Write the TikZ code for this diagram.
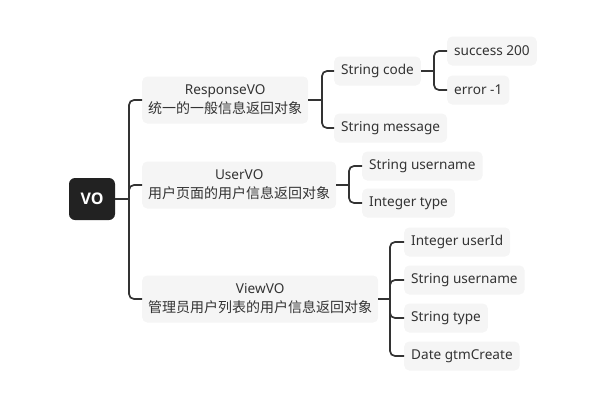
\documentclass[tikz,border=0pt]{standalone}
\usepackage{fontspec}
\setmainfont{Noto Sans}
\newfontfamily\cjk{Noto Sans CJK SC}
\newfontfamily\rootfont{Open Sans}
\usetikzlibrary{calc}
\definecolor{mybg}{RGB}{245,245,245}
\definecolor{mydark}{RGB}{34,34,34}
\definecolor{myline}{RGB}{51,51,51}
\tikzset{
  leaf/.style = {fill = mybg, rounded corners = 5pt, text = myline, font = \fontsize{13.6}{19}\selectfont, inner xsep = 7pt, minimum height = 29pt, anchor = west},
  mid/.style = {leaf, align = center, minimum height = 47pt, inner xsep = 6pt},
  root/.style = {fill = mydark, rounded corners = 6pt, text = white, font = \rootfont\fontsize{16}{19}\selectfont\bfseries, minimum width = 46pt, minimum height = 42pt},
  link/.style = {draw = myline, line width = 1.7pt, rounded corners = 5pt}
}
\newcommand{\zh}[1]{{\cjk\fontsize{14}{19}\selectfont #1}}
\begin{document}
\begin{tikzpicture}[x = 1pt, y = -1pt]
\useasboundingbox (0,0) rectangle (603,410);
\node[root] (vo) at (92,199) {VO};
\node[mid] (resp) at (142,100) {ResponseVO\\\zh{统一的一般信息返回对象}};
\node[mid] (user) at (142,185) {UserVO\\\zh{用户页面的用户信息返回对象}};
\node[mid] (view) at (142,299) {ViewVO\\\zh{管理员用户列表的用户信息返回对象}};
\node[leaf] (code) at (334,71) {String code};
\node[leaf] (msg) at (334,128) {String message};
\node[leaf] (succ) at (447,51) {success 200};
\node[leaf] (err) at (447,90) {error -1};
\node[leaf] (uname) at (362,166) {String username};
\node[leaf] (utype) at (362,203) {Integer type};
\node[leaf] (vid) at (404,242) {Integer userId};
\node[leaf] (vname) at (404,280) {String username};
\node[leaf] (vtype) at (404,318) {String type};
\node[leaf] (vdate) at (404,356) {Date gtmCreate};
\coordinate (j0) at (129,199);
\coordinate (j1) at (322,100);
\coordinate (j2) at (434,71);
\coordinate (j3) at (349,185);
\coordinate (j4) at (390,299);
\draw[link] (vo) -- (j0);
\draw[link] (resp.east) -- (j1);
\draw[link] (code.east) -- (j2);
\draw[link] (user.east) -- (j3);
\draw[link] (view.east) -- (j4);
\foreach \c in {resp, user, view} \draw[link] (j0) |- (\c.west);
\foreach \c in {code, msg} \draw[link] (j1) |- (\c.west);
\foreach \c in {succ, err} \draw[link] (j2) |- (\c.west);
\foreach \c in {uname, utype} \draw[link] (j3) |- (\c.west);
\foreach \c in {vid, vname, vtype, vdate} \draw[link] (j4) |- (\c.west);
\end{tikzpicture}
\end{document}
